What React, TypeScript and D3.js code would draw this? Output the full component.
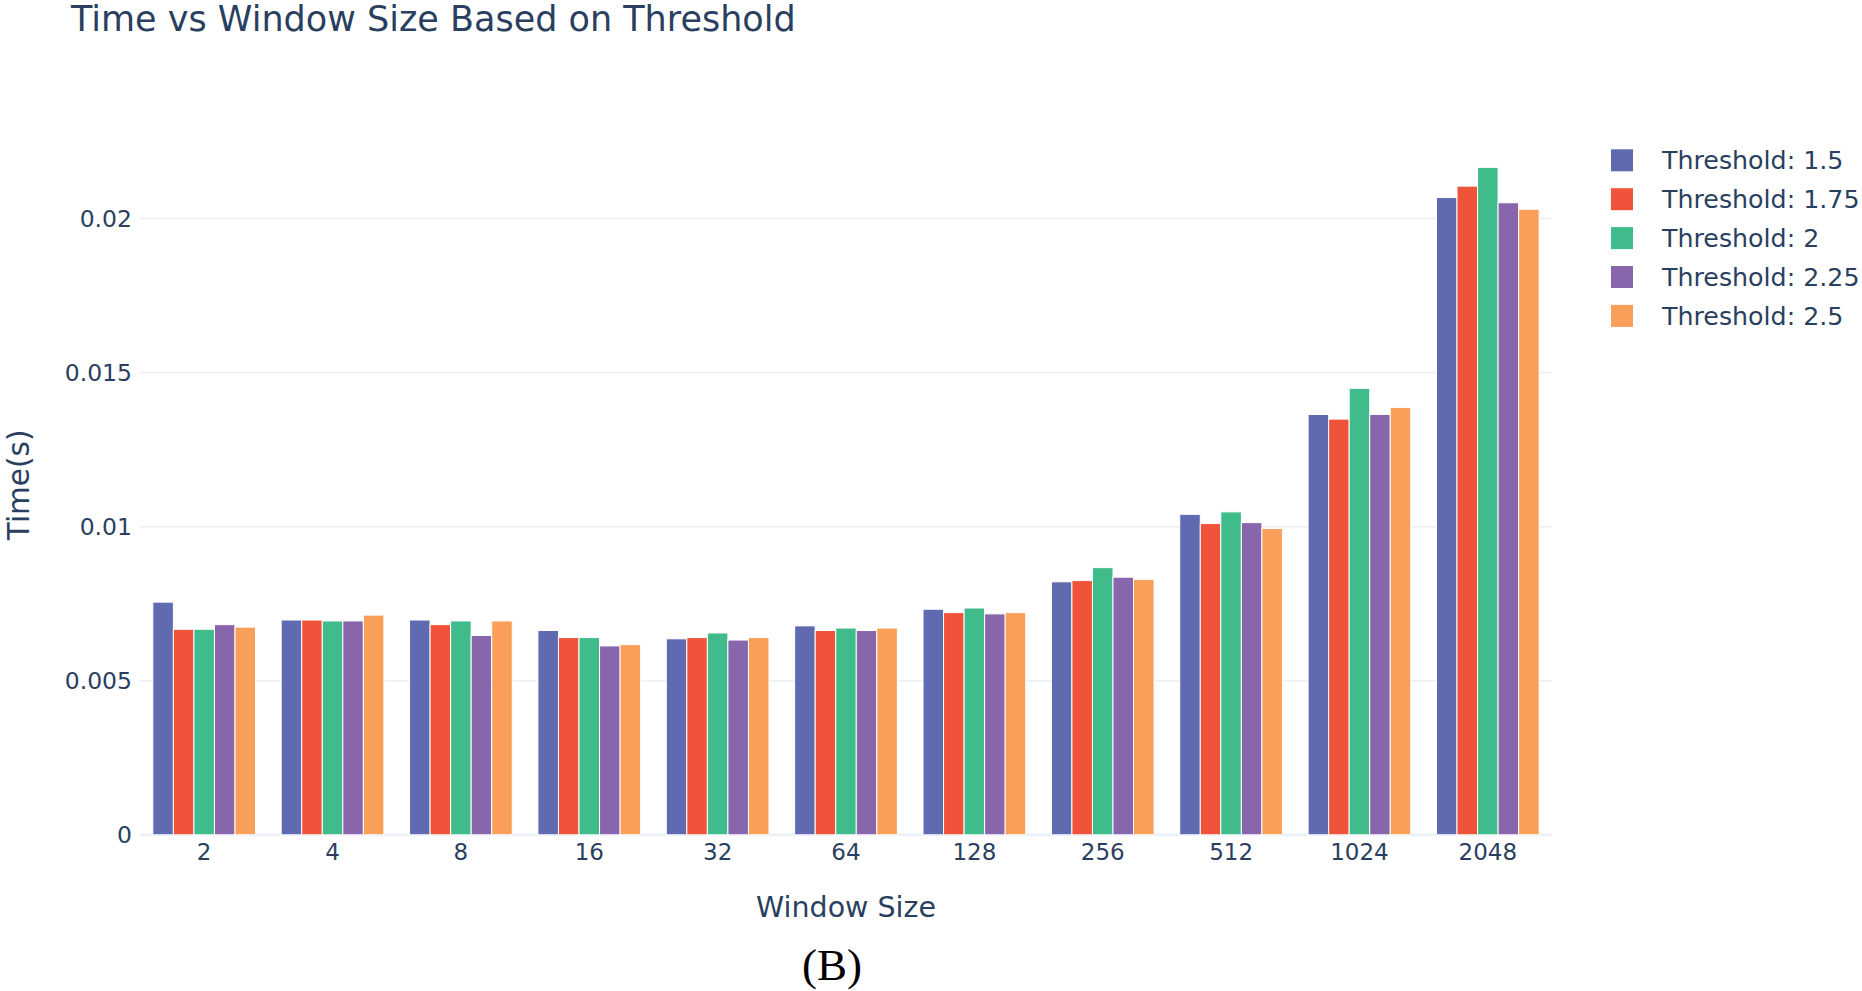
import * as d3 from "d3";
import React, { useRef, useEffect } from "react";

const width = 1862;
const height = 991;
const plot = { left: 140, right: 1552, zeroY: 834.8, topTickY: 218.5 };

const windowSizes = ["2", "4", "8", "16", "32", "64", "128", "256", "512", "1024", "2048"];
const thresholds = ["Threshold: 1.5", "Threshold: 1.75", "Threshold: 2", "Threshold: 2.25", "Threshold: 2.5"];
const colors = ["#5f6ab0", "#ef533a", "#40bb8c", "#8866ab", "#f99f5a"];

// time (s) per window size, one array per threshold
const th150 = [0.00755, 0.00697, 0.00697, 0.00663, 0.00636, 0.00678, 0.00732, 0.00821, 0.0104, 0.01364, 0.02068];
const th175 = [0.00667, 0.00697, 0.00682, 0.0064, 0.0064, 0.00663, 0.00721, 0.00825, 0.0101, 0.01349, 0.02105];
const th200 = [0.00667, 0.00694, 0.00694, 0.0064, 0.00655, 0.00671, 0.00736, 0.00867, 0.01048, 0.01449, 0.02166];
const th225 = [0.00682, 0.00694, 0.00647, 0.00613, 0.00632, 0.00663, 0.00717, 0.00836, 0.01013, 0.01364, 0.02051];
const th250 = [0.00674, 0.00713, 0.00694, 0.00617, 0.0064, 0.00671, 0.00721, 0.00829, 0.00994, 0.01387, 0.0203];
const series = [th150, th175, th200, th225, th250];

const yTickValues = [0, 0.005, 0.01, 0.015, 0.02];
const yTickLabels = ["0", "0.005", "0.01", "0.015", "0.02"];

const textColor = "#2a3f5f";
const font = "'DejaVu Sans', Verdana, sans-serif";

function Chart() {
  const ref = useRef(null);

  useEffect(() => {
    document.body.style.margin = "0";
    const svg = d3.select(ref.current);
    svg.selectAll("*").remove();

    const x = d3
      .scaleBand()
      .domain(windowSizes)
      .range([plot.left, plot.right])
      .paddingInner(0.2)
      .paddingOuter(0.1);
    const xSub = d3.scaleBand().domain(thresholds).range([0, x.bandwidth()]);
    const y = d3.scaleLinear().domain([0, 0.02]).range([plot.zeroY, plot.topTickY]);

    // grid
    svg
      .append("g")
      .selectAll("line")
      .data(yTickValues)
      .join("line")
      .attr("x1", plot.left)
      .attr("x2", plot.right)
      .attr("y1", (d) => y(d))
      .attr("y2", (d) => y(d))
      .attr("stroke", "#ebf0f8")
      .attr("stroke-width", (d) => (d === 0 ? 2.5 : 1.5));

    // bars
    svg
      .append("g")
      .selectAll("g")
      .data(series)
      .join("g")
      .attr("fill", (_, i) => colors[i])
      .each(function (vals, i) {
        d3.select(this)
          .selectAll("rect")
          .data(vals)
          .join("rect")
          .attr("x", (_, j) => (x(windowSizes[j]) as number) + (xSub(thresholds[i]) as number))
          .attr("width", xSub.bandwidth())
          .attr("y", (d) => y(d))
          .attr("height", (d) => y(0) - y(d))
          .attr("stroke", "#ffffff")
          .attr("stroke-width", 1);
      });

    // y axis
    svg
      .append("g")
      .attr("transform", `translate(${plot.left - 5},0)`)
      .call(
        d3
          .axisLeft(y)
          .tickValues(yTickValues)
          .tickSize(0)
          .tickFormat((_, i) => yTickLabels[i])
      )
      .call((g: any) => g.select(".domain").remove())
      .call((g: any) =>
        g.selectAll("text").attr("fill", textColor).style("font-size", "23.5px").style("font-family", font)
      );

    // x axis
    svg
      .append("g")
      .attr("transform", `translate(0,${plot.zeroY + 6})`)
      .call(d3.axisBottom(x).tickSize(0))
      .call((g: any) => g.select(".domain").remove())
      .call((g: any) =>
        g.selectAll("text").attr("fill", textColor).style("font-size", "23px").style("font-family", font)
      );

    // titles
    svg
      .append("text")
      .attr("x", 71)
      .attr("y", 31)
      .attr("fill", textColor)
      .style("font-family", font)
      .style("font-size", "35px")
      .text("Time vs Window Size Based on Threshold");

    svg
      .append("text")
      .attr("x", (plot.left + plot.right) / 2)
      .attr("y", 917)
      .attr("text-anchor", "middle")
      .attr("fill", textColor)
      .style("font-family", font)
      .style("font-size", "28.5px")
      .text("Window Size");

    svg
      .append("text")
      .attr("transform", `translate(29,${(plot.zeroY + 135) / 2}) rotate(-90)`)
      .attr("text-anchor", "middle")
      .attr("fill", textColor)
      .style("font-family", font)
      .style("font-size", "29.5px")
      .text("Time(s)");

    // legend
    const legend = svg
      .append("g")
      .selectAll("g")
      .data(thresholds)
      .join("g")
      .attr("transform", (_, i) => `translate(1611,${160.3 + i * 38.9})`);
    legend
      .append("rect")
      .attr("x", 0)
      .attr("y", -11)
      .attr("width", 22)
      .attr("height", 22)
      .attr("fill", (_, i) => colors[i]);
    legend
      .append("text")
      .attr("x", 51)
      .attr("dy", "0.35em")
      .attr("fill", textColor)
      .style("font-family", font)
      .style("font-size", "25.3px")
      .text((d) => d);

    // panel label
    svg
      .append("text")
      .attr("x", 832)
      .attr("y", 980)
      .attr("text-anchor", "middle")
      .attr("fill", "#000")
      .style("font-family", "'Liberation Serif', 'Times New Roman', serif")
      .style("font-size", "45px")
      .text("(B)");
  }, []);

  return <svg ref={ref} width={width} height={height} style={{ display: "block", background: "#fff" }} />;
}

export default function App() {
  return <Chart />;
}
